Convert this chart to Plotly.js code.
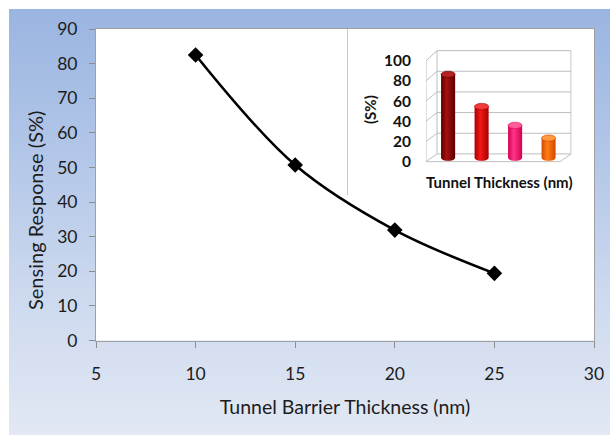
<!DOCTYPE html>
<html>
<head>
<meta charset="utf-8">
<script src="https://cdn.plot.ly/plotly-3.0.1.min.js"></script>
<style>
  html, body { margin:0; padding:0; background:#ffffff; }
  #wrap { position:relative; width:610px; height:435px; overflow:hidden; }
  #bg { position:absolute; left:9px; top:9px; width:601px; height:426px;
        background: linear-gradient(to bottom, #9AB5E1 0%, #AFC4E7 30%, #CBD8EE 65%, #E2E8F4 100%); }
  #chart { position:absolute; left:0; top:0; width:610px; height:435px; }
</style>
</head>
<body>
<div id="wrap"><div id="bg"></div><div id="chart"></div></div>
<script>
// ---- data ----
const thickness = [10, 15, 20, 25];
const sensing = [82.5, 50.7, 31.9, 19.4];
const insetCategories = ['10', '15', '20', '25'];
const insetValues = [82.5, 50.7, 31.9, 19.4];
const insetTickVals = [0, 20, 40, 60, 80, 100];
const mainXTicks = [5, 10, 15, 20, 25, 30];
const mainYTicks = [0, 10, 20, 30, 40, 50, 60, 70, 80, 90];

// ---- styles ----
const cylColors = [
  {edge:'#5A0000', mid:'#A81010', top:'#B52020'},
  {edge:'#A80000', mid:'#F21818', top:'#F23A3A'},
  {edge:'#D40052', mid:'#FF3585', top:'#FF5C9C'},
  {edge:'#D24A00', mid:'#FF7D14', top:'#FF9A40'}
];
const W = 610, H = 435;
const px = v => v / W, py = v => 1 - v / H;
const mainFam = 'Lato, "Open Sans", sans-serif';
const insetFam = 'Lato, "Liberation Sans", sans-serif';

const traces = [];
traces.push({
  x: thickness, y: sensing, type:'scatter', mode:'lines+markers',
  line:{color:'#000000', width:2.6, shape:'spline', smoothing:1},
  marker:{symbol:'diamond', size:12, color:'#000000'},
  xaxis:'x', yaxis:'y', hoverinfo:'x+y', showlegend:false
});

// inset 3D-look cylinders built from the data values on the inset axes
const depthX = 0.16, base = 4, halfW = 0.21, ell = 3.2, N = 28;
insetValues.forEach((v, i) => {
  const cx = i + depthX, top = base + v;
  const bx = [], by = [];
  bx.push(cx - halfW); by.push(top);
  bx.push(cx - halfW); by.push(base);
  for (let k = 0; k <= N; k++) {
    const t = Math.PI + Math.PI * k / N;
    bx.push(cx + halfW * Math.cos(t)); by.push(base + ell * Math.sin(t));
  }
  bx.push(cx + halfW); by.push(top);
  traces.push({
    x: bx, y: by, type:'scatter', mode:'none', fill:'toself',
    fillgradient:{type:'horizontal', colorscale:[[0, cylColors[i].edge],[0.4, cylColors[i].mid],[1, cylColors[i].edge]]},
    xaxis:'x2', yaxis:'y2', hoverinfo:'skip', showlegend:false, name: insetCategories[i]
  });
  const tx = [], ty = [];
  for (let k = 0; k <= 2 * N; k++) {
    const t = 2 * Math.PI * k / (2 * N);
    tx.push(cx + halfW * Math.cos(t)); ty.push(top + ell * Math.sin(t));
  }
  traces.push({
    x: tx, y: ty, type:'scatter', mode:'lines', fill:'toself',
    line:{color:cylColors[i].edge, width:0.6},
    fillcolor: cylColors[i].top,
    xaxis:'x2', yaxis:'y2', hoverinfo:'skip', showlegend:false
  });
});

// 3D frame of the inset (walls, floor) in inset axis coordinates
const dX = 0.33;
const dY = v => 7.7 + 0.023 * v;
const gcol = '#BDBDBD';
const shapes = [];
insetTickVals.forEach(v => {
  shapes.push({type:'line', xref:'x2', yref:'y2', x0:-0.5 + dX, x1:3.5 + dX, y0:v + dY(v), y1:v + dY(v), line:{color:gcol, width:1}, layer:'below'});
  shapes.push({type:'line', xref:'x2', yref:'y2', x0:-0.5, x1:-0.5 + dX, y0:v, y1:v + dY(v), line:{color:gcol, width:1}, layer:'below'});
});
shapes.push({type:'line', xref:'x2', yref:'y2', x0:-0.5 + dX, x1:-0.5 + dX, y0:dY(0), y1:100 + dY(100), line:{color:gcol, width:1}, layer:'below'});
shapes.push({type:'line', xref:'x2', yref:'y2', x0:3.5 + dX, x1:3.5 + dX, y0:dY(0), y1:100 + dY(100), line:{color:gcol, width:1}, layer:'below'});
shapes.push({type:'line', xref:'x2', yref:'y2', x0:-0.5, x1:-0.5, y0:0, y1:100, line:{color:gcol, width:1}, layer:'below'});
shapes.push({type:'line', xref:'x2', yref:'y2', x0:-0.5, x1:3.5, y0:0, y1:0, line:{color:gcol, width:1}, layer:'below'});
shapes.push({type:'line', xref:'x2', yref:'y2', x0:3.5, x1:3.5 + dX, y0:0, y1:dY(0), line:{color:gcol, width:1}, layer:'below'});
// inset chart-area left border
shapes.push({type:'line', xref:'paper', yref:'paper', x0:px(347.5), x1:px(347.5), y0:py(29), y1:py(195), line:{color:'#C8C8C8', width:1}});

const axisFont = {family: mainFam, size:17.5, color:'#1c1c1c'};
const layout = {
  width: W, height: H,
  margin:{l:0, r:0, t:0, b:0},
  paper_bgcolor:'rgba(0,0,0,0)',
  plot_bgcolor:'#ffffff',
  showlegend:false,
  xaxis:{
    domain:[px(96), px(594)], range:[5, 30], tickvals: mainXTicks,
    ticks:'outside', ticklen:6, tickcolor:'#8C8C8C', tickwidth:1,
    showgrid:false, zeroline:false, showline:true, mirror:true, linecolor:'#A0A0A0', linewidth:1,
    tickfont: axisFont, ticklabelstandoff: 11,
    title:{text:'Tunnel Barrier Thickness (nm)', font:{family: mainFam, size:19.5, color:'#1c1c1c'}, standoff: 17},
    anchor:'y', fixedrange:true
  },
  yaxis:{
    domain:[py(340.5), py(29)], range:[0, 90], tickvals: mainYTicks,
    ticks:'outside', ticklen:6, tickcolor:'#8C8C8C', tickwidth:1,
    showgrid:false, zeroline:false, showline:true, mirror:true, linecolor:'#A0A0A0', linewidth:1,
    tickfont: axisFont, ticklabelstandoff: 8,
    anchor:'x', fixedrange:true
  },
  xaxis2:{
    domain:[px(426), px(571.7)], range:[-0.5, 3.85],
    showticklabels:false, ticks:'', showgrid:false, zeroline:false, showline:false,
    anchor:'y2', fixedrange:true
  },
  yaxis2:{
    domain:[py(162.7), py(49.6)], range:[-1, 111], tickvals: insetTickVals,
    ticktext: insetTickVals.map(v => '<b>' + v + '</b>'),
    ticks:'', showgrid:false, zeroline:false, showline:false,
    tickfont:{family: insetFam, size:15.5, color:'#111111'},
    ticklabelstandoff: 14,
    anchor:'x2', fixedrange:true
  },
  shapes: shapes,
  annotations:[
    {text:'Sensing Response (S%)', xref:'paper', yref:'paper', x:px(35), y:py(211), textangle:-90,
     showarrow:false, xanchor:'center', yanchor:'middle',
     font:{family: mainFam, size:20, color:'#1c1c1c'}},
    {text:'<b>(S%)</b>', xref:'paper', yref:'paper', x:px(370), y:py(110), textangle:-90,
     showarrow:false, xanchor:'center', yanchor:'middle',
     font:{family: insetFam, size:15, color:'#111111'}},
    {text:'<b>Tunnel Thickness (nm)</b>', xref:'paper', yref:'paper', x:px(499.5), y:py(182),
     showarrow:false, xanchor:'center', yanchor:'middle',
     font:{family: insetFam, size:15, color:'#111111'}}
  ]
};

Plotly.newPlot('chart', traces, layout, {displayModeBar:false, staticPlot:true});
</script>
</body>
</html>
